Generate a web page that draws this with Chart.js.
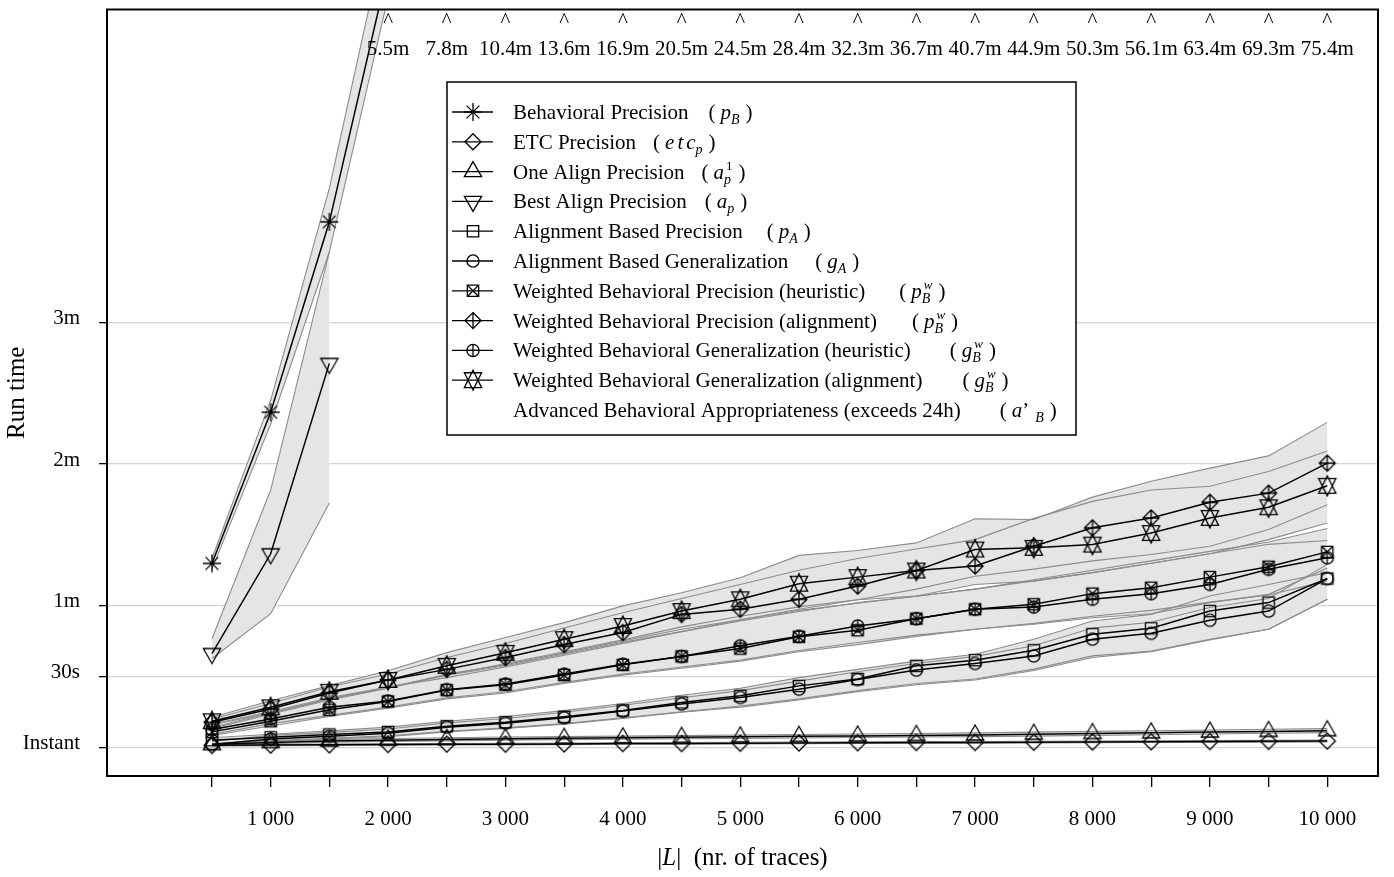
<!DOCTYPE html>
<html>
<head>
<meta charset="utf-8">
<title>Run time</title>
<script src="https://cdn.jsdelivr.net/npm/chart.js@4.4.1/dist/chart.umd.min.js"></script>
<style>
    html, body { margin: 0; padding: 0; background: #fff; }
</style>
</head>
<body>
<canvas id="runtimeChart" width="1394" height="877"></canvas>
<script>
// x: number of traces, y: run time in seconds
var traceCounts = [500, 1000, 1500, 2000, 2500, 3000, 3500, 4000, 4500, 5000, 5500, 6000, 6500, 7000, 7500, 8000, 8500, 9000, 9500, 10000];
var yTickValues = [0, 30, 60, 120, 180];
var yTickLabels = ['Instant', '30s', '1m', '2m', '3m'];

// Behavioral Precision (p_B)
var pB   = [77.9, 142, 222.7, 330, 468, 624, 816, 1014, 1230, 1470, 1704, 1938, 2202, 2442, 2694, 3018, 3366, 3804, 4158, 4524];
var pBHi = [80, 147, 237, 350, 495, 660, 860, 1070, 1300, 1550, 1800, 2040, 2320, 2570, 2840, 3180, 3540, 4000, 4380, 4760];
var pBLo = [75.5, 137, 210, 318, 445, 592, 775, 962, 1168, 1396, 1618, 1840, 2090, 2318, 2558, 2866, 3196, 3612, 3950, 4298];

// ETC Precision
var etc   = [0.8, 0.9, 1.0, 1.2, 1.3, 1.3, 1.4, 1.6, 1.6, 1.7, 1.8, 1.9, 2.0, 2.0, 2.1, 2.2, 2.3, 2.4, 2.5, 2.6];
var etcHi = [1.1, 1.2, 1.3, 1.5, 1.6, 1.7, 1.8, 1.9, 2.0, 2.1, 2.2, 2.3, 2.4, 2.4, 2.5, 2.6, 2.7, 2.8, 2.9, 3.0];
var etcLo = [0.5, 0.6, 0.7, 0.9, 1.0, 1.0, 1.1, 1.3, 1.3, 1.4, 1.5, 1.6, 1.6, 1.7, 1.8, 1.9, 2.0, 2.0, 2.1, 2.2];

// One Align Precision
var a1   = [1.1, 2.0, 2.6, 3.0, 3.3, 3.6, 3.8, 4.0, 4.2, 4.4, 4.6, 4.8, 5.0, 5.2, 5.5, 5.8, 6.1, 6.4, 6.7, 7.0];
var a1Hi = [1.6, 2.6, 3.2, 3.7, 4.0, 4.3, 4.5, 4.7, 4.9, 5.2, 5.4, 5.6, 5.8, 6.1, 6.4, 6.7, 7.0, 7.3, 7.6, 7.9];
var a1Lo = [0.7, 1.5, 2.1, 2.4, 2.7, 3.0, 3.2, 3.4, 3.6, 3.7, 3.9, 4.1, 4.3, 4.5, 4.7, 5.0, 5.3, 5.6, 5.9, 6.2];

// Best Align Precision (only the three smallest logs)
var ap   = [39.7, 82, 162.7, null, null, null, null, null, null, null, null, null, null, null, null, null, null, null, null, null];
var apHi = [46, 109, 210, null, null, null, null, null, null, null, null, null, null, null, null, null, null, null, null, null];
var apLo = [37.6, 56.6, 103.5, null, null, null, null, null, null, null, null, null, null, null, null, null, null, null, null, null];

// Alignment Based Precision
var pA   = [3.0, 4.2, 5.4, 6.5, 8.9, 10.6, 12.9, 15.6, 19.0, 21.8, 26.0, 28.9, 34.5, 36.9, 41.1, 47.9, 50.4, 57.7, 61.3, 71.5];
var pAHi = [4.0, 5.5, 7.0, 8.5, 11.0, 13.0, 15.5, 18.5, 22.0, 25.0, 29.5, 33.0, 36.5, 39.4, 45.8, 53.5, 56.3, 64.1, 69.0, 74.0];
var pALo = [1.5, 2.8, 3.8, 4.8, 6.8, 8.2, 10.0, 12.5, 15.0, 17.5, 20.5, 24.0, 27.0, 28.9, 33.1, 38.7, 40.8, 45.8, 50.0, 62.7];

// Alignment Based Generalization
var gA   = [1.2, 3.5, 4.6, 5.9, 8.5, 10.2, 12.5, 15.3, 18.3, 21.1, 24.6, 28.7, 32.7, 35.5, 38.7, 45.8, 48.3, 53.8, 57.7, 71.5];
var gAHi = [2.5, 5.0, 6.3, 7.7, 10.3, 12.2, 14.8, 17.8, 21.0, 24.0, 28.0, 32.0, 35.5, 38.5, 43.0, 50.5, 53.0, 59.2, 63.0, 77.5];
var gALo = [0.5, 2.5, 3.5, 4.5, 6.5, 8.0, 9.8, 12.2, 14.8, 17.0, 20.0, 23.5, 26.5, 28.5, 32.5, 38.0, 40.5, 45.5, 50.0, 62.7];

// Weighted Behavioral Precision (heuristic)
var pwH   = [6.5, 11.0, 15.9, 19.4, 24.2, 26.5, 30.6, 34.9, 38.5, 41.8, 46.8, 49.6, 54.5, 58.5, 60.6, 65.1, 67.6, 72.1, 76.5, 82.8];
var pwHHi = [8.0, 14.0, 20.0, 25.0, 31.0, 35.0, 40.0, 45.0, 50.0, 54.0, 58.0, 61.0, 64.0, 67.0, 71.0, 75.0, 79.0, 83.0, 87.0, 92.7];
var pwHLo = [5.0, 9.0, 13.0, 16.5, 20.5, 23.0, 27.0, 30.5, 33.5, 36.5, 40.5, 43.5, 47.0, 50.0, 52.5, 55.5, 58.0, 61.5, 64.5, 70.5];

// Weighted Behavioral Precision (alignment)
var pwA   = [10.6, 16.2, 23.0, 28.5, 33.0, 38.0, 43.5, 48.6, 56.3, 58.5, 62.7, 68.3, 74.9, 76.8, 85.2, 93.0, 97.2, 103.8, 107.7, 120.4];
var pwAHi = [12.7, 19.7, 26.1, 32.4, 40.1, 46.5, 52.8, 59.9, 65.5, 71.8, 81.3, 83.4, 86.6, 96.8, 96.5, 106.0, 112.7, 118.3, 123.5, 137.7];
var pwALo = [9.5, 14.5, 20.5, 25.5, 29.5, 34.0, 39.0, 44.0, 49.0, 54.0, 58.5, 62.5, 67.0, 72.5, 75.5, 79.0, 81.7, 85.2, 92.3, 102.8];

// Weighted Behavioral Generalization (heuristic)
var gwH   = [7.5, 12.0, 16.9, 19.6, 24.4, 26.8, 31.0, 35.2, 38.5, 43.0, 47.0, 51.4, 54.5, 58.5, 59.4, 62.7, 65.1, 69.0, 75.4, 80.3];
var gwHHi = [8.5, 14.5, 20.5, 25.0, 30.5, 34.5, 39.5, 44.5, 49.0, 53.5, 57.5, 61.3, 64.0, 67.0, 70.5, 74.0, 78.0, 82.0, 86.0, 87.6];
var gwHLo = [5.5, 10.0, 13.5, 17.0, 21.0, 23.5, 27.5, 31.0, 34.0, 37.0, 41.0, 44.4, 47.5, 50.0, 52.1, 54.9, 56.6, 61.3, 64.8, 76.0];

// Weighted Behavioral Generalization (alignment)
var gwA   = [11.0, 16.9, 23.5, 28.5, 34.5, 40.0, 45.8, 51.4, 57.7, 62.7, 69.3, 72.1, 74.9, 83.8, 84.5, 85.9, 90.8, 97.2, 101.7, 110.8];
var gwAHi = [12.0, 18.5, 25.5, 31.0, 38.0, 44.0, 50.5, 57.0, 63.0, 69.0, 75.0, 80.0, 84.0, 88.0, 97.0, 104.2, 109.0, 110.6, 116.9, 125.6];
var gwALo = [9.8, 15.0, 21.0, 25.5, 30.5, 35.5, 40.5, 45.5, 51.0, 55.5, 59.5, 62.5, 64.1, 69.0, 70.4, 74.0, 78.0, 82.0, 88.0, 95.0];

var seriesNames = [
    'Behavioral Precision',
    'ETC Precision',
    'One Align Precision',
    'Best Align Precision',
    'Alignment Based Precision',
    'Alignment Based Generalization',
    'Weighted Behavioral Precision (heuristic)',
    'Weighted Behavioral Precision (alignment)',
    'Weighted Behavioral Generalization (heuristic)',
    'Weighted Behavioral Generalization (alignment)',
    'Advanced Behavioral Appropriateness (exceeds 24h)'
];

var FONT = "'Liberation Serif', 'Times New Roman', serif";
var R = 6.4;

// R-like plotting symbols
function drawSymbol(g, kind, x, y) {
    var k = 1.555 * R, b = 0.778 * R, hw = 1.347 * R, sq = 0.886 * R, dm = 1.253 * R, dv = 1.166 * R;
    g.beginPath();
    if (kind === 'star') {
        var s = 1.414 * R;
        g.moveTo(x - s, y); g.lineTo(x + s, y);
        g.moveTo(x, y - s); g.lineTo(x, y + s);
        g.moveTo(x - R, y - R); g.lineTo(x + R, y + R);
        g.moveTo(x - R, y + R); g.lineTo(x + R, y - R);
    } else if (kind === 'diamond' || kind === 'diamondPlus') {
        g.moveTo(x, y - dm); g.lineTo(x + dm, y); g.lineTo(x, y + dm); g.lineTo(x - dm, y); g.closePath();
        if (kind === 'diamondPlus') {
            g.moveTo(x - dm, y); g.lineTo(x + dm, y);
            g.moveTo(x, y - dm); g.lineTo(x, y + dm);
        }
    } else if (kind === 'triUp') {
        g.moveTo(x, y - k); g.lineTo(x + hw, y + b); g.lineTo(x - hw, y + b); g.closePath();
    } else if (kind === 'triDown') {
        g.moveTo(x, y + k); g.lineTo(x + hw, y - b); g.lineTo(x - hw, y - b); g.closePath();
    } else if (kind === 'square' || kind === 'squareX') {
        g.rect(x - sq, y - sq, 2 * sq, 2 * sq);
        if (kind === 'squareX') {
            g.moveTo(x - sq, y - sq); g.lineTo(x + sq, y + sq);
            g.moveTo(x - sq, y + sq); g.lineTo(x + sq, y - sq);
        }
    } else if (kind === 'circle' || kind === 'circlePlus') {
        g.arc(x, y, R * 0.95, 0, Math.PI * 2);
        if (kind === 'circlePlus') {
            g.moveTo(x - R, y); g.lineTo(x + R, y);
            g.moveTo(x, y - R); g.lineTo(x, y + R);
        }
    } else if (kind === 'david') {
        g.moveTo(x, y - k); g.lineTo(x + hw, y + dv); g.lineTo(x - hw, y + dv); g.closePath();
        g.moveTo(x, y + k); g.lineTo(x + hw, y - dv); g.lineTo(x - hw, y - dv); g.closePath();
    }
    g.stroke();
}

function makeMarker(kind) {
    var cv = document.createElement('canvas');
    cv.width = 26; cv.height = 26;
    var g = cv.getContext('2d');
    g.strokeStyle = '#000';
    g.lineWidth = 1.3;
    drawSymbol(g, kind, 13, 13);
    return cv;
}

// math part of each legend entry: i = italic, n = normal, sub = subscript (+ optional sup)
var legendMath = [
    [{ t: 'p', s: 'i' }, { t: 'B', s: 'sub' }],
    [{ t: 'e', s: 'i', gap: 3 }, { t: 't', s: 'i', gap: 3 }, { t: 'c', s: 'i' }, { t: 'p', s: 'sub' }],
    [{ t: 'a', s: 'i' }, { t: 'p', s: 'sub', sup: '1', supRoman: true }],
    [{ t: 'a', s: 'i' }, { t: 'p', s: 'sub' }],
    [{ t: 'p', s: 'i' }, { t: 'A', s: 'sub' }],
    [{ t: 'g', s: 'i' }, { t: 'A', s: 'sub' }],
    [{ t: 'p', s: 'i' }, { t: 'B', s: 'sub', sup: 'w' }],
    [{ t: 'p', s: 'i' }, { t: 'B', s: 'sub', sup: 'w' }],
    [{ t: 'g', s: 'i' }, { t: 'B', s: 'sub', sup: 'w' }],
    [{ t: 'g', s: 'i' }, { t: 'B', s: 'sub', sup: 'w' }],
    [{ t: 'a', s: 'i' }, { t: '\u2019', s: 'n', gap: 6 }, { t: 'B', s: 'sub' }]
];
var legendGaps = [20, 17, 17, 18, 24, 27, 34, 35, 39, 40, 39];
var markerKinds = ['star', 'diamond', 'triUp', 'triDown', 'square', 'circle', 'squareX', 'diamondPlus', 'circlePlus', 'david', null];

var seriesData = [
    [pB, pBHi, pBLo], [etc, etcHi, etcLo], [a1, a1Hi, a1Lo], [ap, apHi, apLo],
    [pA, pAHi, pALo], [gA, gAHi, gALo], [pwH, pwHHi, pwHLo], [pwA, pwAHi, pwALo],
    [gwH, gwHHi, gwHLo], [gwA, gwAHi, gwALo]
];

function pts(arr) {
    return traceCounts.map(function (n, i) { return { x: n, y: arr[i] }; });
}

var datasets = [];
seriesData.forEach(function (s, i) {
    datasets.push({
        label: seriesNames[i] + ' hi', data: pts(s[1]), fill: '+1',
        backgroundColor: '#e5e5e5', borderColor: '#8c8c8c', borderWidth: 1.1,
        pointRadius: 0, tension: 0, order: 10
    });
    datasets.push({
        label: seriesNames[i] + ' lo', data: pts(s[2]), fill: false,
        borderColor: '#8c8c8c', borderWidth: 1.1,
        pointRadius: 0, tension: 0, order: 10
    });
    datasets.push({
        label: seriesNames[i], data: pts(s[0]), fill: false,
        borderColor: '#000', borderWidth: 1.5,
        pointStyle: makeMarker(markerKinds[i]), pointRadius: 8,
        tension: 0, order: 1
    });
});

function drawMath(ctx, x, y, tokens) {
    ctx.textBaseline = 'alphabetic';
    ctx.textAlign = 'left';
    ctx.font = '21px ' + FONT;
    ctx.fillText('(', x, y);
    x += ctx.measureText('(').width + 5;
    tokens.forEach(function (tk) {
        if (tk.s === 'sub') {
            ctx.font = 'italic 14px ' + FONT;
            ctx.fillText(tk.t, x, y + 5);
            var w = ctx.measureText(tk.t).width;
            if (tk.sup) {
                ctx.font = (tk.supRoman ? '' : 'italic ') + '13px ' + FONT;
                ctx.fillText(tk.sup, x + 2, y - 9);
                w = Math.max(w, ctx.measureText(tk.sup).width + 2);
            }
            x += w;
        } else {
            ctx.font = (tk.s === 'i' ? 'italic ' : '') + '21px ' + FONT;
            ctx.fillText(tk.t, x, y);
            x += ctx.measureText(tk.t).width + (tk.gap || 0);
        }
    });
    x += 6;
    ctx.font = '21px ' + FONT;
    ctx.fillText(')', x, y);
}

var decorations = {
    id: 'decorations',
    afterDraw: function (chart) {
        var ctx = chart.ctx, area = chart.chartArea;
        var xs = chart.scales.x, ys = chart.scales.y;
        ctx.save();

        // values above the plot
        ctx.fillStyle = '#000';
        ctx.textAlign = 'center';
        ctx.textBaseline = 'alphabetic';
        ctx.font = '21px ' + FONT;
        pB.forEach(function (v, i) {
            if (v > ys.max) {
                var px = xs.getPixelForValue(traceCounts[i]);
                ctx.fillText('^', px, 27);
                ctx.fillText((v / 60).toFixed(1) + 'm', px, 55);
            }
        });

        // frame
        ctx.strokeStyle = '#000';
        ctx.lineWidth = 2;
        ctx.strokeRect(area.left, area.top, area.right - area.left, area.bottom - area.top);

        // legend
        var lx = 447, ly = 82, lw = 629, lh = 353;
        ctx.fillStyle = '#fff';
        ctx.fillRect(lx, ly, lw, lh);
        ctx.lineWidth = 1.5;
        ctx.strokeRect(lx, ly, lw, lh);
        seriesNames.forEach(function (name, i) {
            var cy = 112 + i * 29.8;
            if (markerKinds[i]) {
                ctx.strokeStyle = '#000';
                ctx.lineWidth = 1.3;
                ctx.beginPath();
                ctx.moveTo(452, cy); ctx.lineTo(493, cy);
                ctx.stroke();
                drawSymbol(ctx, markerKinds[i], 473, cy);
            }
            ctx.fillStyle = '#000';
            ctx.font = '21px ' + FONT;
            ctx.textAlign = 'left';
            ctx.textBaseline = 'alphabetic';
            ctx.fillText(name, 513, cy + 7);
            var w = ctx.measureText(name).width;
            drawMath(ctx, 513 + w + legendGaps[i], cy + 7, legendMath[i]);
        });

        // x axis title with italic L
        var parts = [['|', ''], ['L', 'italic '], ['|', ''], ['  (nr. of traces)', '']];
        var total = 0;
        parts.forEach(function (p) { ctx.font = p[1] + '25px ' + FONT; total += ctx.measureText(p[0]).width; });
        var tx = (area.left + area.right) / 2 - total / 2;
        ctx.textAlign = 'left';
        ctx.textBaseline = 'middle';
        parts.forEach(function (p) {
            ctx.font = p[1] + '25px ' + FONT;
            ctx.fillText(p[0], tx, 858);
            tx += ctx.measureText(p[0]).width;
        });
        ctx.restore();
    }
};

var ctx = document.getElementById('runtimeChart').getContext('2d');
new Chart(ctx, {
    type: 'line',
    data: { datasets: datasets },
    options: {
        responsive: false,
        animation: false,
        layout: { padding: { left: 0, right: 16, top: 5, bottom: 0 } },
        plugins: {
            legend: { display: false },
            tooltip: { enabled: false },
            filler: { drawTime: 'beforeDatasetsDraw' }
        },
        scales: {
            x: {
                type: 'linear',
                min: -394,
                max: 10432,
                afterBuildTicks: function (scale) {
                    scale.ticks = traceCounts.map(function (v) { return { value: v }; });
                },
                afterFit: function (scale) {
                    scale.height = 101;
                    scale.paddingLeft = 0;
                    scale.paddingRight = 0;
                },
                border: { display: false },
                grid: { drawOnChartArea: false, tickLength: 11, tickColor: '#000', lineWidth: 1.3 },
                ticks: {
                    autoSkip: false,
                    maxRotation: 0,
                    padding: 20,
                    color: '#000',
                    font: { family: FONT, size: 21 },
                    callback: function (v) {
                        if (v % 1000 !== 0) return '';
                        return String(v).replace(/\B(?=(\d{3})+(?!\d))/g, ' ');
                    }
                }
            },
            y: {
                min: -12.2,
                max: 312.7,
                afterBuildTicks: function (scale) {
                    scale.ticks = yTickValues.map(function (v) { return { value: v }; });
                },
                afterFit: function (scale) {
                    scale.width = 107;
                    scale.paddingTop = 0;
                    scale.paddingBottom = 0;
                },
                border: { display: false },
                grid: { color: '#d4d4d4', lineWidth: 1.3, tickColor: '#000', tickLength: 8 },
                ticks: {
                    padding: 19,
                    labelOffset: -4,
                    color: '#000',
                    font: { family: FONT, size: 21 },
                    callback: function (v) {
                        var i = yTickValues.indexOf(v);
                        return i >= 0 ? yTickLabels[i] : '';
                    }
                },
                title: {
                    display: true,
                    text: 'Run time',
                    color: '#000',
                    font: { family: FONT, size: 25 },
                    padding: { top: 2, bottom: 0 }
                }
            }
        }
    },
    plugins: [decorations]
});
</script>
</body>
</html>
